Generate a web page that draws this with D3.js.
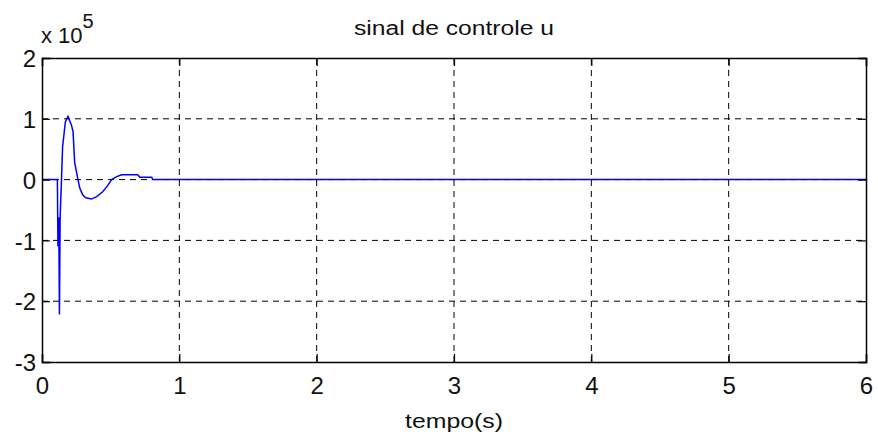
<!DOCTYPE html>
<html>
<head>
<meta charset="utf-8">
<script src="https://cdn.jsdelivr.net/npm/d3@7"></script>
<style>
  body { margin: 0; background: #fff; }
  text { font-family: "Liberation Sans", Arial, sans-serif; fill: #111; }
</style>
</head>
<body>
<div id="chart"></div>
<script>
// Time (s) and control signal u (x 10^5)
const tempo = [0, 0.112, 0.116, 0.122, 0.127, 0.132, 0.142, 0.150, 0.170, 0.189, 0.214, 0.226,
    0.238, 0.262, 0.275, 0.296, 0.318, 0.360, 0.398, 0.442, 0.478, 0.507, 0.544, 0.580,
    0.697, 0.712, 0.799, 0.806, 6];
const sinalU = [0, 0, -1.1, -0.62, -2.22, -0.62, 0, 0.54, 0.95, 1.04, 0.9, 0.79,
    0.28, 0, -0.14, -0.25, -0.3, -0.32, -0.28, -0.2, -0.1, 0, 0.05, 0.08,
    0.08, 0.04, 0.04, 0, 0];

const xTicks = [0, 1, 2, 3, 4, 5, 6];
const yTicks = [-3, -2, -1, 0, 1, 2];

const title = 'sinal de controle u';
const xLabel = 'tempo(s)';

const width = 878, height = 441;
const margin = { top: 58, right: 12, bottom: 79, left: 42 };

const svg = d3.select('#chart')
    .append('svg')
    .attr('width', width)
    .attr('height', height);

const x = d3.scaleLinear().domain([0, 6]).range([margin.left, width - margin.right]);
const y = d3.scaleLinear().domain([-3, 2]).range([height - margin.bottom, margin.top]);

// grid
const grid = svg.append('g')
    .attr('stroke', '#000')
    .attr('stroke-width', 1)
    .attr('stroke-dasharray', '6,5');

grid.selectAll('line.vg')
    .data(xTicks.slice(1, -1))
    .join('line')
    .attr('x1', d => x(d)).attr('x2', d => x(d))
    .attr('y1', y(-3)).attr('y2', y(2));

grid.selectAll('line.hg')
    .data(yTicks.slice(1, -1))
    .join('line')
    .attr('x1', x(0)).attr('x2', x(6))
    .attr('y1', d => y(d)).attr('y2', d => y(d));

// signal
const line = d3.line()
    .x((d, i) => x(tempo[i]))
    .y(d => y(d));

svg.append('path')
    .datum(sinalU)
    .attr('fill', 'none')
    .attr('stroke', '#0000ff')
    .attr('stroke-width', 1.5)
    .attr('d', line);

// axes (ticks inside, MATLAB box); plain hyphen for negatives like the original
const tickLen = 8;
const plain = d => String(d);
const bottomAxis = d3.axisBottom(x).tickValues(xTicks).tickSize(-tickLen).tickPadding(15).tickFormat(plain);
const topAxis = d3.axisTop(x).tickValues(xTicks).tickSize(-tickLen).tickFormat('');
const leftAxis = d3.axisLeft(y).tickValues(yTicks).tickSize(-tickLen).tickPadding(6).tickFormat(plain);
const rightAxis = d3.axisRight(y).tickValues(yTicks).tickSize(-tickLen).tickFormat('');

function styleAxis(g) {
    g.select('.domain').attr('stroke', '#000').attr('stroke-width', 1.5);
    g.selectAll('.tick line').attr('stroke', '#000').attr('stroke-width', 1.2);
    g.selectAll('.tick text')
        .style('font-family', '"Liberation Sans", Arial, sans-serif')
        .style('font-size', '24px')
        .attr('fill', '#111');
}

svg.append('g').attr('transform', `translate(0,${y(-3)})`).call(bottomAxis).call(styleAxis);
svg.append('g').attr('transform', `translate(0,${y(2)})`).call(topAxis).call(styleAxis);
svg.append('g').attr('transform', `translate(${x(0)},0)`).call(leftAxis).call(styleAxis)
    .selectAll('.tick text').attr('dy', '0.36em');
svg.append('g').attr('transform', `translate(${x(6)},0)`).call(rightAxis).call(styleAxis);

// texts
svg.append('text')
    .attr('x', (x(0) + x(6)) / 2)
    .attr('y', 35)
    .attr('text-anchor', 'middle')
    .attr('font-size', 20)
    .attr('textLength', 200)
    .attr('lengthAdjust', 'spacingAndGlyphs')
    .text(title);

svg.append('text')
    .attr('x', (x(0) + x(6)) / 2)
    .attr('y', 428)
    .attr('text-anchor', 'middle')
    .attr('font-size', 20)
    .attr('textLength', 98)
    .attr('lengthAdjust', 'spacingAndGlyphs')
    .text(xLabel);

const expo = svg.append('text')
    .attr('x', 41)
    .attr('y', 43)
    .attr('font-size', 22);
expo.append('tspan').text('x 10');
expo.append('tspan').attr('dy', -15).attr('font-size', 20).text('5');
</script>
</body>
</html>
